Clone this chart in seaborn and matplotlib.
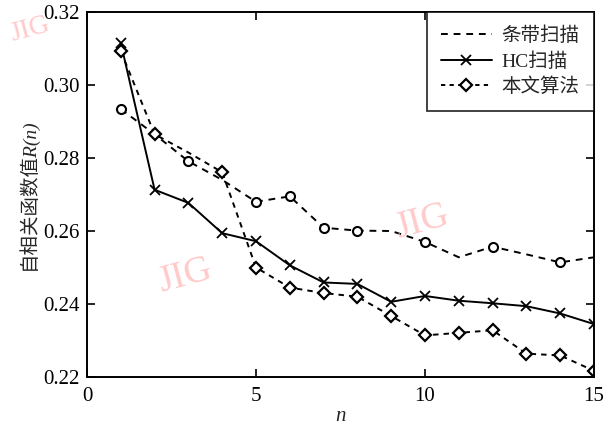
import matplotlib
matplotlib.use("Agg")
import matplotlib.pyplot as plt
from matplotlib.lines import Line2D
import numpy as np
import pandas as pd
import seaborn as sns

# ---------------- data ----------------
n_vals = list(range(1, 16))
strip_scan = [0.2934, 0.2865, 0.2791, 0.2740, 0.2680, 0.2695, 0.2609, 0.2601,
              0.2600, 0.2570, 0.2528, 0.2557, 0.2536, 0.2514, 0.2528]
hc_scan = [0.3115, 0.2713, 0.2677, 0.2594, 0.2572, 0.2506, 0.2459, 0.2455,
           0.2406, 0.2422, 0.2409, 0.2402, 0.2394, 0.2374, 0.2345]
ours = [0.3093, 0.2865, 0.2815, 0.2761, 0.2500, 0.2445, 0.2430, 0.2420,
        0.2367, 0.2314, 0.2321, 0.2328, 0.2264, 0.2259, 0.2217]
series_labels = ["条带扫描", "HC扫描", "本文算法"]
strip_marker_idx = [0, 2, 4, 5, 6, 7, 9, 11, 13]
ours_marker_idx = [0, 1, 3, 4, 5, 6, 7, 8, 9, 10, 11, 12, 13, 14]
x_ticks = [0, 5, 10, 15]
y_ticks = [0.22, 0.24, 0.26, 0.28, 0.30, 0.32]
x_label = "n"
y_label = "自相关函数值R(n)"
watermark = "JIG"

# ---------------- style ----------------
sns.set_theme(style="ticks")
plt.rcParams["font.family"] = ["Liberation Serif", "Noto Sans CJK SC"]
plt.rcParams["axes.unicode_minus"] = False

fig = plt.figure(figsize=(6.16, 4.25), dpi=100)
ax = fig.add_axes([87 / 616, 1 - 377 / 425, (594 - 87) / 616, (377 - 12) / 425])

df = pd.DataFrame({"n": n_vals, "strip": strip_scan, "hc": hc_scan, "ours": ours})

lw = 1.4
# 条带扫描: dashed line, circles at some points
sns.lineplot(data=df, x="n", y="strip", ax=ax, color="black", lw=lw,
             dashes=False, legend=False, linestyle=(0, (3.5, 3)))
sns.lineplot(data=df, x="n", y="strip", ax=ax, color="black", linestyle="none",
             marker="o", markersize=6.5, markerfacecolor="white",
             markeredgecolor="black", markeredgewidth=1.5,
             markevery=strip_marker_idx, legend=False)
# HC扫描
sns.lineplot(data=df, x="n", y="hc", ax=ax, color="black", lw=lw, legend=False,
             marker="x", markersize=7, markeredgewidth=1.3,
             markeredgecolor="black")
# 本文算法
sns.lineplot(data=df, x="n", y="ours", ax=ax, color="black", lw=lw, legend=False,
             linestyle=(0, (2.8, 2.6)), marker="D", markersize=6.5,
             markerfacecolor="white", markeredgecolor="black",
             markeredgewidth=1.6, markevery=ours_marker_idx)

ax.set_xlim(0, 15)
ax.set_ylim(0.22, 0.32)
ax.set_xticks(x_ticks)
ax.set_yticks(y_ticks)
ax.set_xticklabels([str(t) for t in x_ticks])
ax.set_yticklabels([f"{t:.2f}" for t in y_ticks])
ax.tick_params(direction="in", length=6, width=1.2, top=True, right=True,
               labelsize=15, colors="black")
ax.tick_params(axis="x", pad=7)
ax.tick_params(axis="y", pad=5)
for s in ax.spines.values():
    s.set_visible(True)
    s.set_linewidth(1.4)
    s.set_color("black")

ax.set_xlabel(x_label, fontsize=15, fontstyle="italic", labelpad=1)
ax.set_ylabel(y_label, fontsize=14, labelpad=4, fontstyle="italic")

handles = [
    Line2D([], [], color="black", lw=lw, linestyle=(0, (3.5, 3))),
    Line2D([], [], color="black", lw=lw, marker="x", markersize=7,
           markeredgewidth=1.3),
    Line2D([], [], color="black", lw=lw, linestyle=(0, (2.2, 2.2)), marker="D",
           markersize=6, markerfacecolor="white", markeredgewidth=1.6),
]
leg = ax.legend(handles, series_labels, loc="upper right", borderaxespad=0,
                fontsize=14, frameon=True, fancybox=False, handlelength=2.6,
                handletextpad=0.5, labelspacing=0.35, borderpad=0.75)
leg.get_frame().set_edgecolor("black")
leg.get_frame().set_linewidth(1.3)

# watermarks
wm_kw = dict(fontsize=27, color="#ffb3b3", alpha=0.7, rotation=15,
             ha="center", va="center", family="Liberation Serif", zorder=0.5)
fig.text(185 / 616, 1 - 276 / 425, watermark, **wm_kw)
fig.text(422 / 616, 1 - 222 / 425, watermark, **wm_kw)
wm_small = dict(wm_kw, fontsize=20)
fig.text(30 / 616, 1 - 30 / 425, watermark, **wm_small)

fig.savefig("out.png", dpi=100)
